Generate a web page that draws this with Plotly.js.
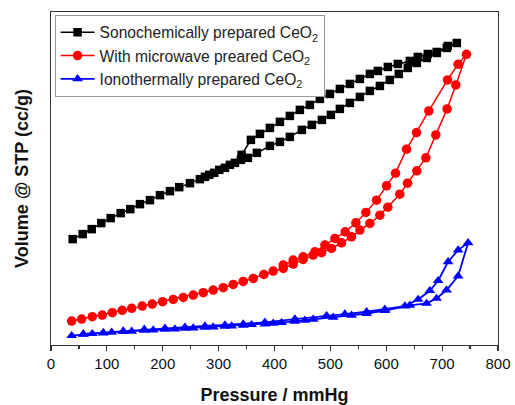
<!DOCTYPE html>
<html>
<head>
<meta charset="utf-8">
<script src="https://cdn.plot.ly/plotly-3.0.1.min.js"></script>
<style>html,body{margin:0;padding:0;background:#fff;}#chart{width:515px;height:405px;}</style>
</head>
<body>
<div id="chart"></div>
<script>
// Sonochemically prepared CeO2 : adsorption then desorption (P in mmHg, volume arbitrary units)
var sonoAdsP = [38.8,56.7,72.8,90,106.8,124.7,141.9,159.2,177.1,195,212.9,229.5,248.7,266.5,283.2,301.1,320.2,339.9,352.4,368.5,391.8,409.7,427.5,449,466.9,484.8,500.9,517,534.9,552.8,570.7,588.6,606.4,622.5,638.6,654.7,672.6,690.5,708.4,726.3];
var sonoAdsV = [31.8,33.3,34.8,36.6,38.1,39.6,40.8,42.3,43.5,45.0,46.2,47.4,48.6,49.8,51.1,52.6,54.1,55.6,56.2,57.7,59.8,61.0,62.5,64.6,66.1,67.6,69.1,70.9,72.7,74.5,76.3,77.8,79.6,81.4,83.2,84.7,86.2,87.7,89.2,90.7];
var sonoDesP = [710.2,690.5,674.4,656.5,642.2,620.8,602.9,585,570.7,552.8,534.9,517,499.1,481.2,463.3,445.4,427.5,409.7,391.8,373.9,357.8,341.1,329.2,311.3,292.1,275.5];
var sonoDesV = [89.8,88.0,87.4,86.5,85.3,84.4,83.5,82.3,81.4,79.9,78.4,76.9,75.4,73.9,72.1,70.6,68.8,67.0,65.2,63.4,61.6,57.1,54.7,53.2,51.7,50.5];

// With microwave preared CeO2
var microAdsP = [37.0,54.9,73.9,91.8,109.7,127.5,144.4,163.3,181.2,199.8,218.8,236.7,254.6,272.5,290.3,308.2,326.1,344,361.9,381,397.7,415.6,433.5,451.3,469.2,484.3,502.1,520,537.9,552.8,570.7,588.6,602.9,624.3,638.1,654.7,670.8,688.7,708.9,724.5,743.6];
var microAdsV = [7.2,7.8,8.5,9.0,9.7,10.4,11.0,11.7,12.3,13.0,13.7,14.3,15.0,15.7,16.5,17.2,18.2,19.1,20.0,21.2,22.2,23.0,24.3,25.7,27.0,27.7,29.0,30.7,32.5,34.5,36.5,39.0,41.4,45.3,48.6,52.3,56.2,63.1,70.9,78.1,87.3];
var microDesP = [728.6,709.7,676.2,654.2,636.3,616.6,600.5,582.6,563.5,545.6,526.5,508.1,490.2,472.3,451.3,433.5,415.6];
var microDesV = [84.3,79.6,70.3,63.8,58.8,51.6,47.8,43.5,39.8,36.7,34.0,32.0,30.0,28.0,26.5,25.5,24.0];

// Ionothermally prepared CeO2
var ionoAdsP = [37.0,57.8,73.9,93.6,108.6,129.3,144.4,166.9,183.0,203.9,221.8,239.7,254.6,275.5,290.3,311.3,323.3,344.0,359.0,382.8,397.7,412.7,436.5,454.4,469.2,505.0,537.9,564.8,597.5,642.2,672.1,690.0,707.9,728.6,746.5];
var ionoAdsV = [2.8,3.2,3.4,3.6,3.8,4.0,4.1,4.4,4.5,4.7,4.8,5.0,5.1,5.3,5.4,5.6,5.7,5.9,6.1,6.3,6.5,6.7,7.1,7.4,7.7,8.3,8.9,9.4,10.3,11.9,12.5,14.0,16.5,20.7,30.7];
var ionoDesP = [728.6,710.7,692.8,678.0,657.1,633.3,597.5,564.8,525.9,493.2,436.5,382.8,344.0,311.3,275.5,239.7,203.9,166.9,129.3,93.6,57.8];
var ionoDesV = [28.5,25.0,19.3,16.3,13.7,11.7,10.7,10.0,9.3,8.8,7.8,6.8,6.3,6.0,5.7,5.3,5.0,4.7,4.2,3.7,3.3];

var seriesNames = ['Sonochemically prepared CeO<sub>2</sub>','With microwave preared CeO<sub>2</sub>','Ionothermally prepared CeO<sub>2</sub>'];
var xTickVals = [0,100,200,300,400,500,600,700,800];

var traces = [
  {x: sonoAdsP.concat(sonoDesP), y: sonoAdsV.concat(sonoDesV), name: seriesNames[0], mode:'lines+markers',
   line:{color:'#000000', width:1.5}, marker:{symbol:'square', size:8.5, color:'#000000'}},
  {x: microAdsP.concat(microDesP), y: microAdsV.concat(microDesV), name: seriesNames[1], mode:'lines+markers',
   line:{color:'#ff0000', width:1.5}, marker:{symbol:'circle', size:9.5, color:'#ff0000'}},
  {x: ionoAdsP.concat(ionoDesP), y: ionoAdsV.concat(ionoDesV), name: seriesNames[2], mode:'lines+markers',
   line:{color:'#0000ff', width:1.8}, marker:{symbol:'triangle-up', size:9.5, color:'#0000ff'}}
];

var layout = {
  width:515, height:405,
  margin:{l:51, r:17, t:12, b:60},
  paper_bgcolor:'#ffffff', plot_bgcolor:'#ffffff',
  font:{family:'Liberation Sans, Arial, sans-serif', color:'#000'},
  showlegend:true,
  legend:{x:0.008, y:0.992, xanchor:'left', yanchor:'top', bgcolor:'#ffffff', bordercolor:'#999999', borderwidth:1,
          font:{size:15.6, color:'#222'}, tracegroupgap:0, itemwidth:34},
  xaxis:{range:[0,800], tickvals:xTickVals, ticktext:xTickVals.map(String), ticks:'outside', ticklen:5, tickwidth:1.2, tickcolor:'#333',
         minor:{dtick:50, ticks:'outside', ticklen:3, tickwidth:1.2, tickcolor:'#333'},
         showline:true, linecolor:'#333', linewidth:1.3, mirror:true, showgrid:false, zeroline:false,
         tickfont:{size:15, color:'#111'},
         title:{text:'<b>Pressure / mmHg</b>', font:{size:18, color:'#111'}, standoff:18}},
  yaxis:{range:[0,100], showticklabels:false, ticks:'', showline:true, linecolor:'#333', linewidth:1.3, mirror:true,
         showgrid:false, zeroline:false,
         title:{text:'<b>Volume @ STP (cc/g)</b>', font:{size:18, color:'#111'}, standoff:16}}
};

Plotly.newPlot('chart', traces, layout, {displayModeBar:false, staticPlot:true});
</script>
</body>
</html>
